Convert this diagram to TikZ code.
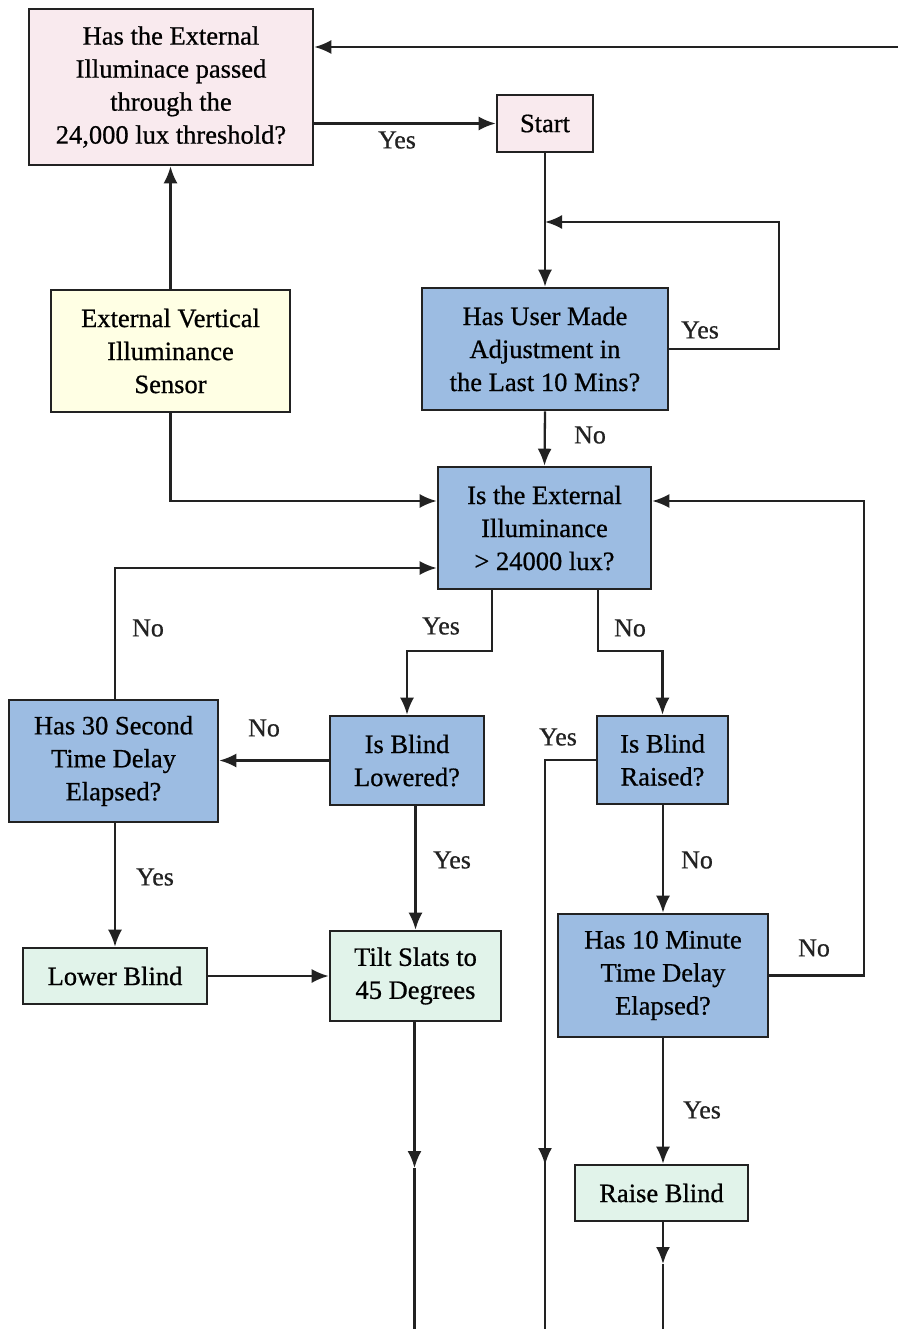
\documentclass[tikz,border=0pt]{standalone}
\usepackage{fontspec}
\setmainfont{Liberation Serif}
\newfontfamily\chartfont[FakeBold=0.7]{Liberation Serif}
\usetikzlibrary{arrows.meta}
\definecolor{pinkbox}{HTML}{F9EAEE}
\definecolor{bluebox}{HTML}{9CBCE2}
\definecolor{greenbox}{HTML}{E1F3EA}
\definecolor{yellowbox}{HTML}{FFFFE4}
\definecolor{ink}{HTML}{222222}
\tikzset{
  box/.style={draw=ink, line width=2.6pt, rectangle, inner sep=0pt, align=center,
    font=\chartfont\fontsize{26.5}{33}\selectfont},
  qpink/.style={box, fill=pinkbox},
  qblue/.style={box, fill=bluebox},
  qgreen/.style={box, fill=greenbox},
  qyellow/.style={box, fill=yellowbox},
  link/.style={draw=ink, line width=2.3pt},
  arr/.style={link, -{Latex[length=17pt,width=14pt]}},
  lbl/.style={font=\chartfont\fontsize{26}{30}\selectfont, inner sep=0pt, text=ink}
}
\begin{document}
\begin{tikzpicture}[x=1pt,y=-1pt]
\useasboundingbox[fill=white] (0,0) rectangle (898,1329);

% decision and action boxes
\node[qpink, minimum width=284pt, minimum height=156pt] (thr) at (171,87)
  {Has the External\\Illuminace passed\\through the\\24,000 lux threshold?};
\node[qpink, minimum width=96pt, minimum height=57pt] (start) at (545,123.5) {Start};
\node[qblue, minimum width=246pt, minimum height=122pt] (user) at (545,349)
  {Has User Made\\Adjustment in\\the Last 10 Mins?};
\node[qyellow, minimum width=239pt, minimum height=122pt] (sensor) at (170.5,351)
  {External Vertical\\Illuminance\\Sensor};
\node[qblue, minimum width=213pt, minimum height=122pt] (ext) at (544.5,528)
  {Is the External\\Illuminance\\> 24000 lux?};
\node[qblue, minimum width=209pt, minimum height=122pt] (sec) at (113.5,761)
  {Has 30 Second\\Time Delay\\Elapsed?};
\node[qblue, minimum width=154pt, minimum height=89pt] (low) at (407,760.5)
  {Is Blind\\Lowered?};
\node[qblue, minimum width=131pt, minimum height=88pt] (rai) at (662.5,760)
  {Is Blind\\Raised?};
\node[qgreen, minimum width=184pt, minimum height=56pt] (lower) at (115,976) {Lower Blind};
\node[qgreen, minimum width=171pt, minimum height=90pt] (tilt) at (415.5,976)
  {Tilt Slats to\\45 Degrees};
\node[qblue, minimum width=210pt, minimum height=123pt] (tmin) at (663,975.5)
  {Has 10 Minute\\Time Delay\\Elapsed?};
\node[qgreen, minimum width=173pt, minimum height=56pt] (raise) at (661.5,1193) {Raise Blind};

% loose ends at the page edges
\coordinate (back) at (898,47);
\coordinate (j1) at (545,222);
\coordinate (tiltmid) at (414.5,1168);
\coordinate (tiltend) at (414.5,1329);
\coordinate (yesmid) at (545,1165);
\coordinate (yesend) at (545,1329);
\coordinate (raisemid) at (663,1264);
\coordinate (raiseend) at (663,1329);

% connectors
\draw[arr] (back) -- (thr.east |- back);
\draw[arr] (thr.east |- start) -- (start.west);
\draw[arr] (start.south) -- (user.north);
\draw[arr] (user.east) -- ++(110,0) |- (j1);
\draw[arr] (user.south) -- (ext.north);
\draw[arr] (sensor.north) -- (thr.south -| sensor.north);
\draw[arr] (sensor.south) |- ([yshift=27pt]ext.west);
\draw[arr] (sec.north -| 115,0) |- ([yshift=-40pt]ext.west);
\draw[arr] ([xshift=-52.5pt]ext.south) -- ++(0,61) -| (low.north);
\draw[arr] ([xshift=53.5pt]ext.south) -- ++(0,61) -| (rai.north);
\draw[arr] (tmin.east) -- ++(95,0) |- ([yshift=27pt]ext.east);
\draw[arr] (low.west) -- (sec.east |- low.west);
\draw[arr] (sec.south -| 115,0) -- (lower.north);
\draw[arr] (low.south -| tilt.north) -- (tilt.north);
\draw[arr] (lower.east) -- (tilt.west |- lower.east);
\draw[arr] (tilt.south -| tiltmid) -- (tiltmid);
\draw[link] (tiltmid) -- (tiltend);
\draw[link] (rai.west) -| (yesmid);
\draw[arr] (rai.west -| yesmid) -- (yesmid);
\draw[link] (yesmid) -- (yesend);
\draw[arr] (rai.south -| tmin.north) -- (tmin.north);
\draw[arr] (tmin.south) -- (raise.north -| tmin.south);
\draw[arr] (raise.south -| raisemid) -- (raisemid);
\draw[link] (raisemid) -- (raiseend);

% branch labels
\node[lbl] (l1) at (397,140) {Yes};
\node[lbl] (l2) at (700,330) {Yes};
\node[lbl] (l3) at (590,435) {No};
\node[lbl] (l4) at (148,628) {No};
\node[lbl] (l5) at (441,626) {Yes};
\node[lbl] (l6) at (630,628) {No};
\node[lbl] (l7) at (264,728) {No};
\node[lbl] (l8) at (558,737) {Yes};
\node[lbl] (l9) at (155,877) {Yes};
\node[lbl] (l10) at (452,860) {Yes};
\node[lbl] (l11) at (697,860) {No};
\node[lbl] (l12) at (814,948) {No};
\node[lbl] (l13) at (702,1110) {Yes};
\end{tikzpicture}
\end{document}
